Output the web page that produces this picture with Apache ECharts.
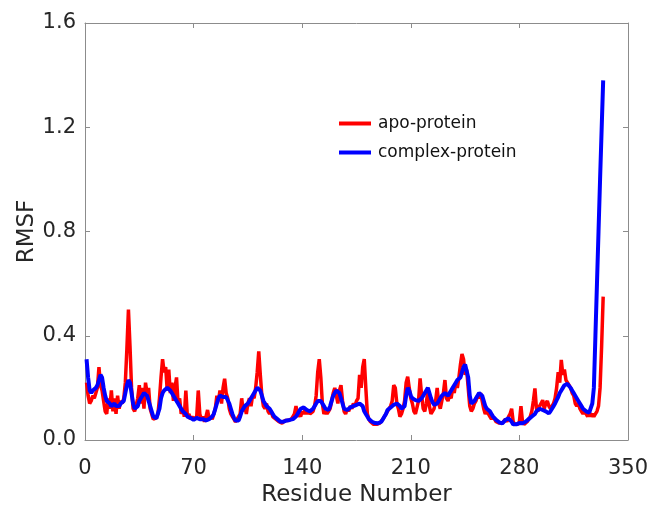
<!DOCTYPE html>
<html>
<head>
<meta charset="utf-8">
<script src="https://cdn.jsdelivr.net/npm/echarts@6/dist/echarts.min.js"></script>
<style>html,body{margin:0;padding:0;background:#fff;}#c{width:649px;height:506px;}</style>
</head>
<body>
<div id="c"></div>
<script>
var xTicks = [0, 70, 140, 210, 280, 350];
var yTicks = [0.0, 0.4, 0.8, 1.2, 1.6];
var seriesNames = ['apo-protein', 'complex-protein'];
var firstResidue = 1;

var apoRMSF = [
0.22,0.17,0.14,0.15,0.17,0.16,0.18,0.20,0.28,0.21,
0.19,0.15,0.11,0.10,0.16,0.12,0.19,0.11,0.16,0.10,
0.17,0.12,0.15,0.14,0.16,0.22,0.35,0.50,0.36,0.20,
0.12,0.11,0.11,0.16,0.21,0.14,0.20,0.12,0.22,0.18,
0.20,0.12,0.10,0.08,0.08,0.085,0.10,0.16,0.24,0.31,
0.26,0.28,0.19,0.27,0.18,0.22,0.15,0.20,0.24,0.14,
0.16,0.10,0.12,0.09,0.19,0.09,0.10,0.08,0.09,0.08,
0.08,0.09,0.19,0.10,0.08,0.09,0.07,0.09,0.115,0.08,
0.09,0.08,0.10,0.12,0.17,0.15,0.19,0.14,0.20,0.235,
0.18,0.16,0.12,0.10,0.09,0.08,0.07,0.07,0.09,0.10,
0.16,0.11,0.13,0.10,0.14,0.16,0.13,0.17,0.16,0.20,
0.26,0.34,0.25,0.17,0.13,0.12,0.14,0.11,0.10,0.11,
0.09,0.085,0.08,0.075,0.07,0.065,0.065,0.07,0.075,0.07,
0.075,0.08,0.08,0.09,0.10,0.13,0.09,0.10,0.09,0.11,
0.10,0.12,0.10,0.11,0.10,0.10,0.11,0.13,0.17,0.26,
0.31,0.24,0.14,0.10,0.11,0.10,0.11,0.12,0.15,0.18,
0.20,0.17,0.14,0.19,0.21,0.15,0.11,0.10,0.12,0.11,
0.13,0.12,0.14,0.13,0.15,0.16,0.25,0.20,0.28,0.31,
0.20,0.10,0.08,0.07,0.065,0.06,0.065,0.06,0.06,0.065,
0.07,0.08,0.09,0.10,0.11,0.12,0.13,0.15,0.21,0.20,
0.14,0.12,0.09,0.10,0.12,0.15,0.22,0.243,0.20,0.16,
0.14,0.11,0.10,0.096,0.15,0.236,0.17,0.12,0.11,0.14,
0.19,0.13,0.10,0.11,0.12,0.15,0.20,0.14,0.12,0.15,
0.18,0.23,0.16,0.15,0.17,0.16,0.20,0.18,0.22,0.20,
0.24,0.29,0.33,0.31,0.25,0.27,0.20,0.13,0.11,0.12,
0.14,0.15,0.17,0.16,0.18,0.15,0.12,0.10,0.11,0.10,
0.09,0.08,0.09,0.08,0.07,0.07,0.065,0.06,0.065,0.07,
0.08,0.07,0.09,0.10,0.12,0.07,0.06,0.055,0.06,0.07,
0.13,0.07,0.06,0.065,0.07,0.08,0.09,0.11,0.15,0.198,
0.12,0.11,0.13,0.14,0.153,0.12,0.14,0.15,0.13,0.12,
0.13,0.14,0.16,0.20,0.26,0.22,0.307,0.25,0.27,0.23,
0.22,0.21,0.20,0.18,0.17,0.14,0.13,0.14,0.12,0.11,
0.10,0.11,0.10,0.09,0.11,0.09,0.10,0.09,0.10,0.11,
0.13,0.20,0.36,0.55
];

var complexRMSF = [
0.31,0.24,0.19,0.18,0.19,0.19,0.20,0.21,0.23,0.25,
0.24,0.20,0.17,0.15,0.15,0.14,0.13,0.13,0.14,0.13,
0.13,0.13,0.14,0.14,0.15,0.18,0.21,0.23,0.22,0.18,
0.14,0.12,0.12,0.13,0.15,0.16,0.17,0.18,0.185,0.17,
0.15,0.13,0.11,0.09,0.085,0.083,0.09,0.12,0.16,0.18,
0.19,0.19,0.20,0.20,0.19,0.18,0.17,0.16,0.15,0.14,
0.13,0.12,0.11,0.11,0.10,0.09,0.083,0.085,0.08,0.077,
0.08,0.085,0.08,0.08,0.085,0.08,0.08,0.075,0.08,0.08,
0.08,0.09,0.10,0.12,0.14,0.16,0.17,0.17,0.165,0.16,
0.165,0.16,0.14,0.12,0.10,0.085,0.075,0.07,0.075,0.09,
0.11,0.12,0.13,0.135,0.14,0.15,0.16,0.17,0.18,0.19,
0.20,0.20,0.19,0.17,0.15,0.14,0.13,0.128,0.12,0.11,
0.10,0.09,0.085,0.08,0.075,0.07,0.07,0.07,0.072,0.075,
0.077,0.077,0.077,0.08,0.085,0.09,0.10,0.11,0.12,0.12,
0.125,0.12,0.115,0.11,0.11,0.115,0.12,0.13,0.14,0.15,
0.153,0.15,0.14,0.13,0.12,0.115,0.115,0.13,0.15,0.17,
0.18,0.19,0.19,0.18,0.16,0.14,0.12,0.115,0.115,0.12,
0.125,0.128,0.13,0.13,0.135,0.14,0.14,0.14,0.13,0.11,
0.10,0.09,0.08,0.077,0.07,0.066,0.065,0.064,0.064,0.064,
0.07,0.08,0.09,0.10,0.115,0.12,0.125,0.13,0.135,0.14,
0.14,0.14,0.13,0.12,0.115,0.13,0.17,0.20,0.19,0.17,
0.16,0.155,0.153,0.15,0.15,0.155,0.16,0.17,0.18,0.19,
0.20,0.18,0.16,0.145,0.135,0.134,0.14,0.15,0.16,0.17,
0.175,0.18,0.18,0.17,0.18,0.19,0.20,0.21,0.22,0.23,
0.23,0.24,0.26,0.28,0.29,0.294,0.24,0.17,0.14,0.14,
0.15,0.16,0.17,0.18,0.185,0.17,0.15,0.13,0.12,0.115,
0.11,0.10,0.09,0.085,0.077,0.072,0.068,0.065,0.064,0.07,
0.077,0.08,0.083,0.08,0.07,0.06,0.058,0.06,0.064,0.065,
0.064,0.064,0.066,0.07,0.075,0.08,0.085,0.09,0.095,0.10,
0.11,0.115,0.12,0.12,0.115,0.11,0.11,0.105,0.102,0.11,
0.12,0.13,0.14,0.153,0.165,0.18,0.19,0.20,0.21,0.217,
0.215,0.21,0.20,0.19,0.18,0.17,0.166,0.15,0.14,0.13,
0.12,0.115,0.11,0.11,0.105,0.109,0.14,0.20,0.40,0.60,
0.80,1.00,1.19,1.38
];

function toPairs(arr) {
  return arr.map(function (v, i) { return [firstResidue + i, v]; });
}

var axisColor = '#8c8c8c';
var labelColor = '#262626';
var fontFam = 'DejaVu Sans, sans-serif';

function boxAxis(extra) {
  var base = {
    type: 'value',
    axisLine: {show: true, onZero: false, lineStyle: {color: axisColor, width: 1}},
    axisTick: {show: true, inside: true, length: 5, lineStyle: {color: axisColor}},
    splitLine: {show: false}
  };
  for (var k in extra) base[k] = extra[k];
  return base;
}

var chart = echarts.init(document.getElementById('c'), null, {renderer: 'canvas'});
chart.setOption({
  animation: false,
  backgroundColor: '#ffffff',
  grid: {left: 85, right: 21, top: 23, bottom: 66, show: false, containLabel: false, outerBoundsMode: 'none'},
  legend: {
    data: seriesNames,
    orient: 'vertical',
    left: 334, top: 110,
    itemWidth: 32, itemHeight: 4, itemGap: 12,
    icon: 'rect',
    textStyle: {fontFamily: fontFam, fontSize: 17, color: '#111', padding: [0, 0, 0, 2]}
  },
  xAxis: [boxAxis({
    min: xTicks[0], max: xTicks[xTicks.length - 1], interval: xTicks[1] - xTicks[0],
    name: 'Residue Number', nameLocation: 'middle', nameGap: 44, nameMoveOverlap: false,
    nameTextStyle: {fontFamily: fontFam, fontSize: 23, color: labelColor},
    axisLabel: {fontFamily: fontFam, fontSize: 21, color: labelColor, margin: 18}
  }), boxAxis({
    position: 'top', min: xTicks[0], max: xTicks[xTicks.length - 1], interval: xTicks[1] - xTicks[0],
    axisLabel: {show: false}
  })],
  yAxis: [boxAxis({
    min: yTicks[0], max: yTicks[yTicks.length - 1], interval: yTicks[1] - yTicks[0],
    name: 'RMSF', nameLocation: 'middle', nameGap: 46, nameMoveOverlap: false,
    nameTextStyle: {fontFamily: fontFam, fontSize: 23, color: labelColor},
    axisLabel: {fontFamily: fontFam, fontSize: 21, color: labelColor, margin: 9,
      formatter: function (v) { return v.toFixed(1); }}
  }), boxAxis({
    position: 'right', min: yTicks[0], max: yTicks[yTicks.length - 1], interval: yTicks[1] - yTicks[0],
    axisLabel: {show: false}
  })],
  series: [{
    name: seriesNames[0], type: 'line', data: toPairs(apoRMSF),
    showSymbol: false, symbol: 'none', color: '#ff0000',
    lineStyle: {color: '#ff0000', width: 3.5}, z: 2
  }, {
    name: seriesNames[1], type: 'line', data: toPairs(complexRMSF),
    showSymbol: false, symbol: 'none', color: '#0000ff',
    lineStyle: {color: '#0000ff', width: 4}, z: 3
  }]
});
</script>
</body>
</html>
